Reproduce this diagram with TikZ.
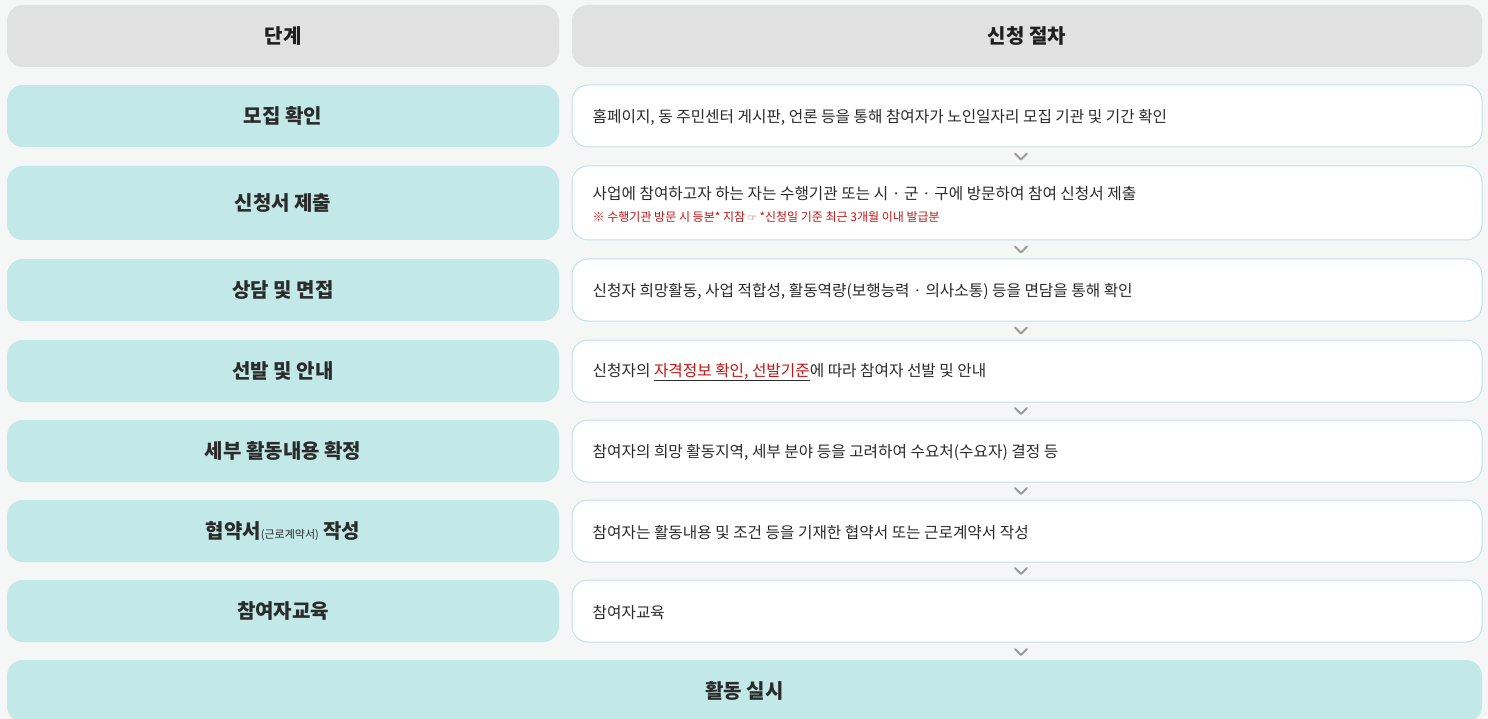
\documentclass[tikz,border=0pt]{standalone}
\usepackage{fontspec}
\setmainfont{Noto Sans CJK KR}
\newfontfamily\symfont{DejaVu Sans}
\usetikzlibrary{calc}

\definecolor{pagebg}{HTML}{F4F7F6}
\definecolor{headbg}{HTML}{E1E1E1}
\definecolor{stepbg}{HTML}{C2E8E7}
\definecolor{lineteal}{HTML}{BFE3E3}
\definecolor{txtdark}{HTML}{2B2B2B}
\definecolor{txtred}{HTML}{C41414}
\definecolor{chevgray}{HTML}{9A9A9A}

\newsavebox\ulbox
\newcommand\ulinedark[1]{\sbox\ulbox{#1}\rlap{\color{txtdark}\rule[-4.5pt]{\wd\ulbox}{1pt}}\usebox\ulbox}

\tikzset{
    headbox/.style={fill=headbg, rounded corners=16pt, minimum height=62pt,
        font=\bfseries\fontsize{20}{24}\selectfont, text=black!88},
    stepbox/.style={fill=stepbg, rounded corners=16pt, minimum width=552pt,
        font=\bfseries\fontsize{20}{24}\selectfont, text=txtdark},
    procbox/.style={fill=white, draw=lineteal, line width=1pt,
        rounded corners=16pt, minimum width=910pt},
    proctxt/.style={anchor=west, inner sep=0pt, font=\fontsize{15.7}{18}\selectfont, text=txtdark},
    notetxt/.style={anchor=west, inner sep=0pt, font=\fontsize{12}{14}\selectfont, text=txtred},
    chev/.style={draw=chevgray, line width=1.8pt, line cap=round, line join=round}
}

\begin{document}
\begin{tikzpicture}[x=1pt,y=-1pt]

    \fill[pagebg] (0,0) rectangle (1488,719);
    \useasboundingbox (0,0) rectangle (1488,719);

    % header
    \node[headbox, minimum width=552pt] (hstep) at (283,36) {단계};
    \node[headbox, minimum width=910pt] (hproc) at (1027,36) {신청 절차};

    % steps
    \foreach \i/\yc/\hgt/\lab in {1/116/62/모집 확인,
                                  2/203/74/신청서 제출,
                                  3/290/62/상담 및 면접,
                                  4/371/62/선발 및 안내,
                                  5/451/62/세부 활동내용 확정,
                                  6/531/62/{협약서{\mdseries\fontsize{11}{13}\selectfont(근로계약서)} 작성},
                                  7/611/62/참여자교육}{
        \node[stepbox, minimum height=\hgt pt] (s\i) at (283,\yc) {\lab};
        \node[procbox, minimum height=\hgt pt] (p\i) at (1027,\yc) {};
    }

    \node[stepbox, minimum width=1475pt, minimum height=62pt] (act) at (744.5,691) {활동 실시};

    % procedure texts
    \node[proctxt] (t1) at ($(p1.west)+(21,1.5)$) {홈페이지, 동 주민센터 게시판, 언론 등을 통해 참여자가 노인일자리 모집 기관 및 기간 확인};
    \node[proctxt] (t2) at ($(p2.west)+(21,-9)$) {사업에 참여하고자 하는 자는 수행기관 또는 시 · 군 · 구에 방문하여 참여 신청서 제출};
    \node[notetxt] (n2) at ($(p2.west)+(21,14)$) {※ 수행기관 방문 시 등본* 지참 {\symfont\fontsize{10}{12}\selectfont ☞} *신청일 기준 최근 3개월 이내 발급분};
    \node[proctxt] (t3) at ($(p3.west)+(21,1.5)$) {신청자 희망활동, 사업 적합성, 활동역량(보행능력 · 의사소통) 등을 면담을 통해 확인};
    \node[proctxt] (t4) at ($(p4.west)+(21,1.5)$) {신청자의 \ulinedark{\color{txtred}자격정보 확인, 선발기준}에 따라 참여자 선발 및 안내};
    \node[proctxt] (t5) at ($(p5.west)+(21,1.5)$) {참여자의 희망 활동지역, 세부 분야 등을 고려하여 수요처(수요자) 결정 등};
    \node[proctxt] (t6) at ($(p6.west)+(21,1.5)$) {참여자는 활동내용 및 조건 등을 기재한 협약서 또는 근로계약서 작성};
    \node[proctxt] (t7) at ($(p7.west)+(21,1.5)$) {참여자교육};

    % chevrons
    \foreach \a/\b in {p1/p2, p2/p3, p3/p4, p4/p5, p5/p6, p6/p7}
        \draw[chev] ($($(\a.south)!0.5!(\b.north)$)+(-12,-3)$) -- ++(6,6) -- ++(6,-6);
    \draw[chev] ($(p7.south)+(-12,6.5)$) -- ++(6,6) -- ++(6,-6);

\end{tikzpicture}
\end{document}
